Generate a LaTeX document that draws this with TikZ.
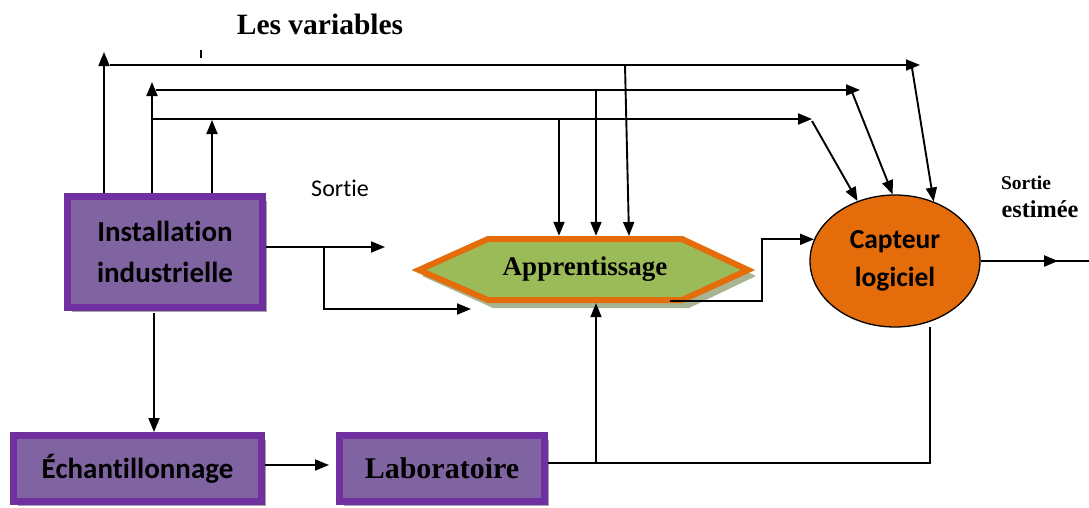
\documentclass[tikz,border=0pt]{standalone}
\usepackage{fontspec}
\setmainfont{Liberation Serif}
\newfontfamily\carlito[Ligatures=NoCommon]{Carlito}
\usetikzlibrary{arrows.meta,shapes.geometric,shadows,calc}

\definecolor{boxedge}{HTML}{7030A0}
\definecolor{boxfill}{HTML}{8064A2}
\definecolor{orng}{HTML}{E46C0A}
\definecolor{lgreen}{HTML}{9BBB59}
\definecolor{hexshade}{HTML}{A7B592}
\definecolor{boxshade}{HTML}{A6A6A6}

\tikzset{
  conn/.style={line width=1.9pt, -{Triangle[length=14pt,width=11pt]}},
  procbox/.style={draw=boxedge, fill=boxfill, line width=7pt, inner sep=0pt,
    general shadow={fill=boxshade, shadow xshift=4pt, shadow yshift=-4pt}},
  sansbold/.style={font=\carlito\bfseries\fontsize{29}{41}\selectfont, align=center},
  serifbold/.style={font=\bfseries\fontsize{27}{30}\selectfont}
}

\begin{document}
\begin{tikzpicture}[x=1pt,y=-1pt]
\useasboundingbox (0,0) rectangle (1089,507);

% process boxes
\node[procbox, sansbold, minimum width=195pt, minimum height=111pt] (inst) at (165,252)
  {Installation\\industrielle};
\node[procbox, sansbold, minimum width=248pt, minimum height=66pt] (ech) at (137.5,468.5)
  {Échantillonnage};
\node[procbox, serifbold, font=\bfseries\fontsize{30}{32}\selectfont,
  minimum width=205pt, minimum height=66pt] (lab) at (442,468.5) {Laboratoire};

% learning block (hexagon)
\fill[hexshade] (422,276) -- (493,244) -- (689,244) -- (756,276) -- (689,308) -- (493,308) -- cycle;
\draw[orng, fill=lgreen, line width=6pt, line join=miter]
  (419,270) -- (488,239) -- (682,239) -- (748,270) -- (682,300) -- (488,300) -- cycle;
\node[serifbold, minimum width=194pt, minimum height=67pt, inner sep=0pt] (app) at (585,269.5)
  {Apprentissage};

% soft sensor
\node[ellipse, draw=black, line width=1.3pt, fill=orng, minimum width=170pt, minimum height=132pt,
  inner sep=0pt, sansbold, font=\carlito\bfseries\fontsize{27.5}{38}\selectfont] (cap) at (895,261)
  {Capteur\\logiciel};

% labels
\node[font=\bfseries\fontsize{29.5}{32}\selectfont] (lesvar) at (320,24) {Les variables};
\node[font=\carlito\fontsize{24}{26}\selectfont] (sortie) at (340,188) {Sortie};
\node[font=\bfseries\fontsize{19.5}{22}\selectfont] (sest1) at (1026,183) {Sortie};
\node[font=\bfseries\fontsize{24.3}{26}\selectfont] (sest2) at (1040,209) {estimée};

% small tick under the title
\coordinate (tk1) at (201,50);
\coordinate (tk2) at (201,58);
\draw[line width=1.2pt] (tk1) -- (tk2);

% variables leaving the plant
\coordinate (u1) at (104,52);
\coordinate (u2) at (152,82);
\coordinate (u3) at (212,120);
\draw[conn] (inst.north -| u1) -- (u1);
\draw[conn] (inst.north -| u2) -- (u2);
\draw[conn] (inst.north -| u3) -- (u3);

% three variable buses
\coordinate (h1s) at (110,65);
\coordinate (h1e) at (920,65);
\coordinate (h2s) at (156,90);
\coordinate (h2e) at (860,90);
\coordinate (h3s) at (152,119);
\coordinate (h3e) at (812,119);
\draw[conn] (h1s) -- (h1e);
\draw[conn] (h2s) -- (h2e);
\draw[conn] (h3s) -- (h3e);

% buses into the soft sensor
\coordinate (d1) at (912,68);
\coordinate (d2) at (852,92);
\coordinate (d3) at (812,121);
\draw[conn] (d1) -- (cap.57);
\draw[conn] (d2) -- (cap.92);
\draw[conn] (d3) -- (cap.122);

% buses into the learning block
\coordinate (t1) at (559,119);
\coordinate (t2) at (596,90);
\coordinate (t3) at (625,65);
\coordinate (t3b) at (629,236);
\draw[conn] (t1) -- (t1 |- app.north);
\draw[conn] (t2) -- (t2 |- app.north);
\draw[conn] (t3) -- (t3b);

% plant output
\coordinate (so) at (385,247);
\coordinate (br) at (324,247);
\coordinate (ain) at (471,309);
\draw[conn] ([yshift=5pt]inst.east) -- (so);
\draw[conn] (br) |- (ain);

% learning block to soft sensor
\coordinate (aout) at (670,301);
\coordinate (ak) at (762,301);
\draw[conn] (aout) -- (ak) |- (cap.165);

% sampling chain
\coordinate (dn) at (154,313);
\draw[conn] (dn) -- (dn |- ech.north);
\draw[conn, shorten >=7pt] ([yshift=3.5pt]ech.east) -- ([yshift=3.5pt]lab.west);

% laboratory feedback
\coordinate (lr) at (930,463);
\coordinate (lu) at (596,463);
\coordinate (lrt) at (930,327);
\draw[line width=1.5pt] ([yshift=5.5pt]lab.east) -- (lr) -- (lrt);
\draw[conn] (lu) -- (lu |- app.south);

% estimated output
\coordinate (oend) at (1089,261);
\coordinate (om1) at (1005,261);
\coordinate (om2) at (1058,261);
\draw[line width=1.3pt] (cap.east) -- (oend);
\draw[line width=2.4pt, -{Triangle[length=14pt,width=11pt]}] (om1) -- (om2);
\end{tikzpicture}
\end{document}
